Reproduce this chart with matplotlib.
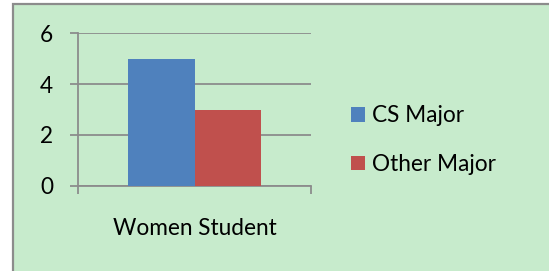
import matplotlib
matplotlib.use("Agg")
import matplotlib.pyplot as plt
from matplotlib.patches import Rectangle

categories = ["Women Student"]
series_names = ["CS Major", "Other Major"]
cs_major = [5]
other_major = [3]
y_ticks = [0, 2, 4, 6]

W, H = 549, 271
FS = 16.3
plt.rcParams['font.family'] = ['Lato', 'DejaVu Sans']
fig = plt.figure(figsize=(W / 100, H / 100), dpi=100, facecolor='white')

# chart area background with grey frame
bg = Rectangle((13 / W, -0.05), 1.2, (H - 4) / H + 0.05, transform=fig.transFigure,
               facecolor='#C7EBCC', edgecolor='#8C8C8C', linewidth=1.6, zorder=-10)
fig.patches.append(bg)

ax = fig.add_axes([78 / W, (H - 185.7) / H, (311 - 78) / W, (185.7 - 33.3) / H])
ax.set_facecolor('none')
ax.set_zorder(1)

bw = 0.286
x0 = 0
ax.bar([x0 - bw / 2], cs_major, width=bw, color='#4F81BD', label=series_names[0], zorder=3)
ax.bar([x0 + bw / 2], other_major, width=bw, color='#C0504D', label=series_names[1], zorder=3)

ax.set_xlim(-0.5, 0.5)
ax.set_ylim(0, 6)
ax.set_yticks(y_ticks)
ax.set_yticklabels([str(v) for v in y_ticks])
ax.yaxis.grid(True, color='#8C8C8C', linewidth=1.3, zorder=0)
ax.set_axisbelow(True)

ax.set_xticks([0])
ax.set_xticklabels(categories)
ax.set_xticks([-0.5, 0.5], minor=True)
ax.tick_params(axis='x', which='major', length=0, pad=23, labelsize=FS)
ax.tick_params(axis='x', which='minor', length=6, width=1.3, color='#8C8C8C')
ax.tick_params(axis='y', length=6, width=1.3, color='#8C8C8C', pad=12, labelsize=FS)

for s in ['top', 'right']:
    ax.spines[s].set_visible(False)
for s in ['left', 'bottom']:
    ax.spines[s].set_color('#8C8C8C')
    ax.spines[s].set_linewidth(1.3)

leg = fig.legend(loc='center left', bbox_to_anchor=(351 / W, (H - 140) / H),
                 frameon=False, fontsize=FS, handlelength=0.62, handleheight=0.62,
                 handletextpad=0.3, labelspacing=1.22, borderpad=0, borderaxespad=0)

fig.savefig('out.png', dpi=100, facecolor='white')
